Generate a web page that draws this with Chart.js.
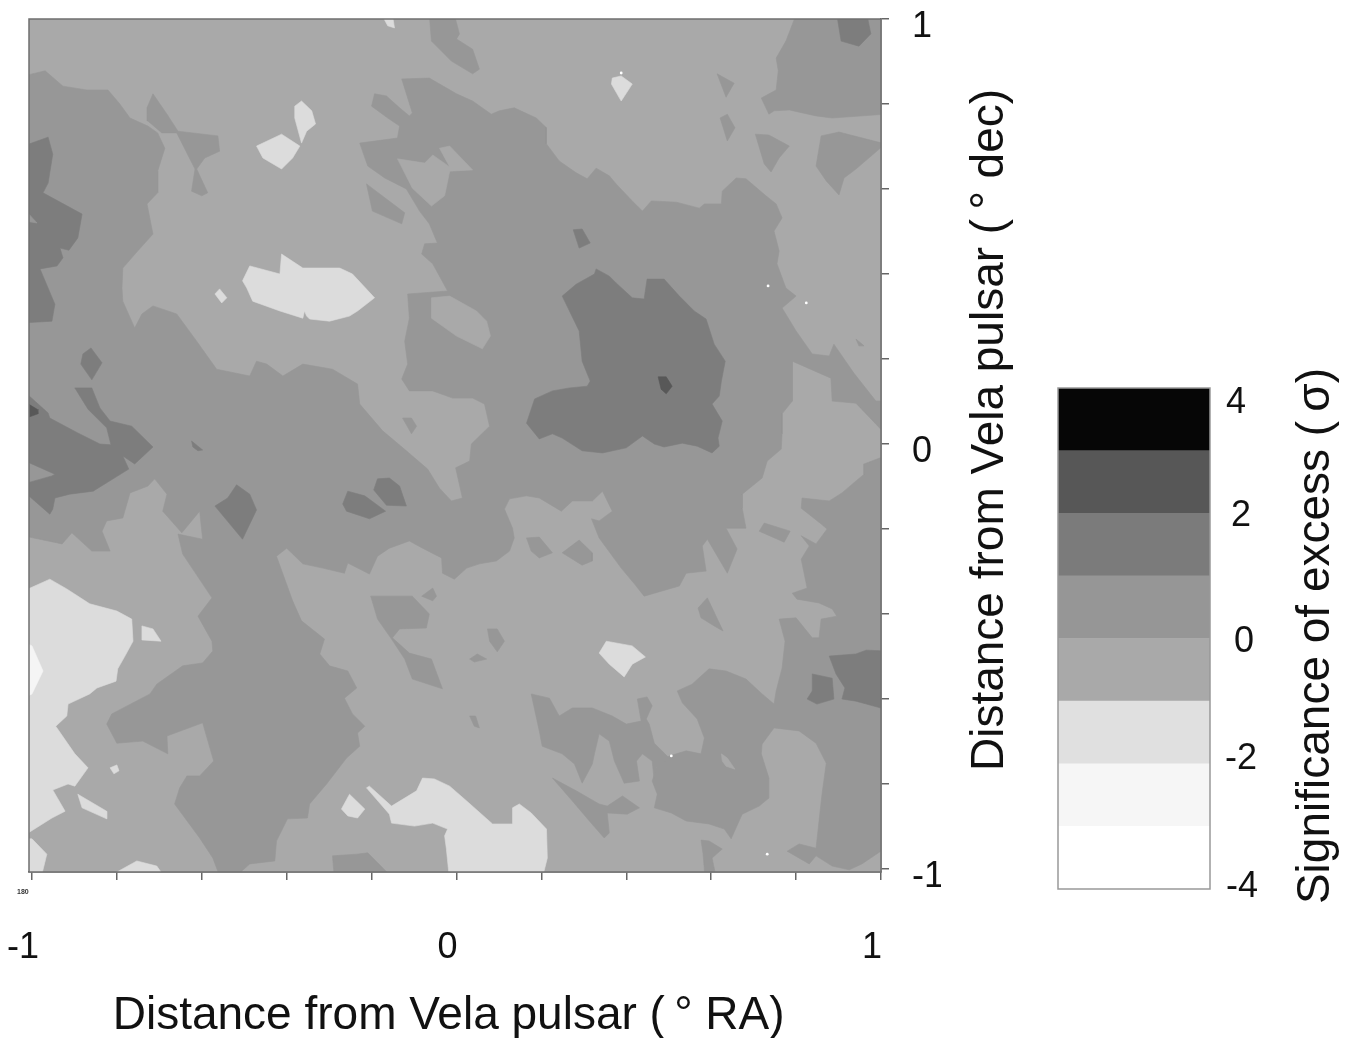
<!DOCTYPE html>
<html><head><meta charset="utf-8">
<style>html,body{margin:0;padding:0;background:#fff;width:1351px;height:1038px;overflow:hidden}
canvas{position:absolute;display:block}</style>
<script src="https://cdn.jsdelivr.net/npm/chart.js@4"></script>
</head><body>
<canvas id="map" width="1351" height="1038" style="left:0;top:0"></canvas>
<canvas id="bar" width="311" height="550" style="left:1040px;top:370px"></canvas>
<script>
// ---- labels ----
const xTitle = "Distance from Vela pulsar (\u2009\u00B0 RA)\u00A0";
const yTitle = "Distance from Vela pulsar (\u2009\u00B0 dec)";
const barTitle = "Significance of excess (\u2009\u03C3)";
const axisTicks = [-1,-0.8,-0.6,-0.4,-0.2,0,0.2,0.4,0.6,0.8,1];
const labelledTicks = [-1,0,1];
const barTicks = [4,2,0,-2,-4];
// ---- colour bar ----
const bandEdges = [-4,-3,-2,-1,0,1,2,3,4];
const bandColors = ["#ffffff","#f6f6f6","#e0e0e0","#a9a9a9","#969696","#7b7b7b","#575757","#060606"];
// ---- contour colours ----
const colA="#a9a9a9", colB="#979797", colC="#7d7d7d", colD="#585858", colE="#dcdcdc", colF="#f5f5f5";
// ---- contours, level just above the background: degrees (RA, dec) ----
const midMain=[[-1.02,.866],[-.969,.878],[-.927,.842],[-.871,.833],[-.821,.833],[-.793,.800],[-.769,.767],[-.727,.748],[-.704,.732],[-.687,.696],[-.704,.642],[-.704,.591],[-.729,.565],[-.715,.494],[-.751,.454],[-.786,.414],[-.788,.367],[-.786,.336],[-.758,.273],[-.741,.306],[-.715,.325],[-.659,.306],[-.612,.242],[-.565,.176],[-.487,.160],[-.471,.195],[-.447,.188],[-.409,.160],[-.362,.188],[-.292,.176],[-.233,.141],[-.228,.094],[-.174,.031],[-.118,-.016],[-.068,-.059],[-.040,-.104],[-.012,-.134],[.014,-.127],[-.002,-.056],[.031,-.040],[.035,0],[.078,.042],[.066,.094],[.038,.108],[-.009,.108],[-.056,.125],[-.111,.125],[-.129,.153],[-.115,.188],[-.122,.242],[-.111,.296],[-.115,.353],[-.021,.360],[-.056,.424],[-.082,.447],[-.075,.471],[-.045,.473],[-.064,.518],[-.087,.548],[-.118,.600],[-.169,.626],[-.209,.654],[-.228,.708],[-.139,.720],[-.134,.748],[-.162,.767],[-.200,.795],[-.193,.824],[-.165,.819],[-.134,.791],[-.111,.772],[-.104,.779],[-.129,.859],[-.064,.861],[0,.824],[.038,.807],[.082,.776],[.101,.784],[.136,.791],[.188,.767],[.212,.744],[.212,.706],[.242,.666],[.282,.638],[.308,.624],[.329,.649],[.360,.631],[.376,.612],[.414,.572],[.438,.548],[.459,.572],[.518,.569],[.572,.555],[.584,.565],[.624,.565],[.626,.595],[.659,.626],[.682,.624],[.729,.584],[.753,.565],[.767,.532],[.748,.501],[.760,.454],[.755,.424],[.776,.367],[.800,.348],[.767,.320],[.800,.266],[.838,.212],[.878,.207],[.889,.235],[.936,.167],[.988,.101],[1.01,.101],[1.01,.024],[.941,.096],[.885,.101],[.882,.155],[.791,.195],[.791,.101],[.767,.071],[.767,.024],[.765,-.012],[.732,-.040],[.720,-.080],[.673,-.118],[.673,-.151],[.682,-.198],[.635,-.198],[.661,-.247],[.638,-.304],[.591,-.224],[.579,-.240],[.588,-.299],[.541,-.304],[.525,-.334],[.442,-.358],[.419,-.329],[.388,-.292],[.336,-.221],[.318,-.176],[.336,-.181],[.367,-.158],[.344,-.111],[.320,-.134],[.273,-.134],[.247,-.158],[.195,-.127],[.165,-.122],[.125,-.129],[.113,-.153],[.132,-.198],[.136,-.221],[.125,-.252],[.094,-.275],[.054,-.282],[.024,-.292],[-.005,-.318],[-.033,-.304],[-.035,-.268],[-.080,-.245],[-.111,-.228],[-.158,-.245],[-.186,-.264],[-.205,-.306],[-.256,-.280],[-.264,-.304],[-.315,-.292],[-.362,-.282],[-.400,-.245],[-.424,-.264],[-.386,-.369],[-.365,-.416],[-.311,-.459],[-.322,-.494],[-.299,-.522],[-.256,-.534],[-.235,-.574],[-.264,-.598],[-.245,-.635],[-.216,-.664],[-.233,-.680],[-.228,-.711],[-.259,-.739],[-.306,-.800],[-.346,-.847],[-.351,-.880],[-.398,-.882],[-.424,-.934],[-.428,-.981],[-.487,-.988],[-.534,-1.03],[-.553,-1.03],[-.574,-.974],[-.605,-.927],[-.664,-.847],[-.652,-.809],[-.635,-.781],[-.605,-.781],[-.572,-.746],[-.598,-.656],[-.682,-.687],[-.680,-.729],[-.739,-.699],[-.800,-.704],[-.824,-.659],[-.812,-.635],[-.722,-.588],[-.706,-.565],[-.645,-.522],[-.598,-.515],[-.574,-.487],[-.576,-.464],[-.609,-.405],[-.576,-.362],[-.645,-.259],[-.656,-.212],[-.598,-.224],[-.605,-.158],[-.647,-.209],[-.692,-.158],[-.682,-.118],[-.711,-.082],[-.727,-.099],[-.769,-.115],[-.786,-.174],[-.824,-.181],[-.835,-.205],[-.816,-.252],[-.859,-.252],[-.906,-.209],[-.929,-.235],[-1.02,-.216]];
const midSouthEast=[[1.01,-.028],[.960,-.047],[.960,-.071],[.908,-.115],[.878,-.134],[.814,-.127],[.812,-.151],[.859,-.188],[.873,-.200],[.847,-.235],[.812,-.216],[.831,-.240],[.812,-.271],[.826,-.339],[.791,-.351],[.802,-.365],[.854,-.374],[.885,-.388],[.896,-.405],[.859,-.412],[.854,-.456],[.838,-.456],[.800,-.409],[.760,-.412],[.774,-.464],[.767,-.527],[.753,-.581],[.748,-.612],[.720,-.588],[.682,-.553],[.635,-.534],[.595,-.529],[.555,-.565],[.520,-.581],[.532,-.609],[.567,-.647],[.584,-.692],[.576,-.729],[.541,-.722],[.501,-.734],[.471,-.762],[.461,-.793],[.473,-.824],[.466,-.856],[.506,-.868],[.541,-.887],[.595,-.894],[.631,-.906],[.647,-.929],[.673,-.871],[.713,-.852],[.736,-.833],[.736,-.786],[.718,-.729],[.720,-.706],[.748,-.668],[.807,-.675],[.847,-.704],[.871,-.751],[.861,-.824],[.854,-.887],[.847,-.951],[.807,-.941],[.779,-.958],[.831,-.988],[.847,-.969],[.885,-.993],[.925,-1.002],[.955,-.988],[1.01,-.951]];
const midLobe=[[.176,-.588],[.219,-.598],[.242,-.640],[.273,-.621],[.320,-.621],[.367,-.640],[.400,-.659],[.435,-.652],[.426,-.600],[.449,-.595],[.461,-.616],[.447,-.647],[.454,-.659],[.466,-.704],[.501,-.739],[.471,-.762],[.466,-.793],[.461,-.746],[.438,-.729],[.424,-.746],[.431,-.793],[.395,-.798],[.372,-.746],[.360,-.699],[.336,-.682],[.325,-.729],[.320,-.753],[.296,-.798],[.278,-.753],[.249,-.729],[.202,-.711],[.195,-.675]];
const midFinger=[[.226,-.786],[.282,-.816],[.336,-.847],[.355,-.852],[.391,-.828],[.431,-.856],[.402,-.871],[.355,-.868],[.360,-.915],[.348,-.927],[.313,-.887],[.273,-.840]];
const midFoot=[[.576,-.932],[.595,-.934],[.626,-.953],[.602,-.974],[.614,-1.03],[.586,-1.03],[.581,-.965]];
const midShard=[[.569,-.386],[.591,-.362],[.628,-.440],[.607,-.428],[.576,-.409]];
const midSpider=[[-.729,.791],[-.715,.824],[-.682,.776],[-.656,.736],[-.562,.725],[-.558,.689],[-.593,.673],[-.612,.647],[-.586,.591],[-.600,.584],[-.624,.595],[-.616,.647],[-.659,.732],[-.694,.732],[-.727,.760]];
const midTop=[[-.064,1.01],[-.005,1.01],[.007,.965],[0,.953],[.038,.929],[.054,.882],[.038,.871],[-.012,.901],[-.059,.948]];
const midSliver=[[-.212,.612],[-.122,.544],[-.129,.518],[-.198,.548]];
const midNE1=[[.614,.871],[.654,.849],[.635,.816]];
const midNE2=[[.621,.767],[.638,.776],[.656,.744],[.638,.713]];
const midNE3=[[.704,.729],[.736,.727],[.784,.701],[.760,.673],[.741,.640],[.725,.659]];
const midNE4=[[.859,.725],[.901,.734],[1.01,.706],[.941,.647],[.913,.626],[.901,.586],[.871,.619],[.847,.654]];
const midNECorner=[[.800,1.01],[1.01,1.01],[1.01,.776],[.885,.767],[.847,.772],[.784,.786],[.748,.784],[.736,.776],[.718,.814],[.753,.833],[.758,.878],[.753,.908],[.776,.948]];
const midSpeck=[[.941,.247],[.960,.231],[.948,.231]];
const midBottom=[[-.292,-.969],[-.235,-.965],[-.209,-.962],[-.141,-1.03],[-.287,-1.03]];
const midVein=[[-.202,-.358],[-.104,-.358],[-.064,-.400],[-.071,-.433],[-.134,-.435],[-.151,-.456],[-.111,-.492],[-.059,-.506],[-.033,-.576],[-.104,-.553],[-.122,-.506],[-.153,-.459],[-.186,-.412]];
const midTick=[[-.082,-.358],[-.056,-.339],[-.047,-.358],[-.056,-.369]];
const midDot1=[[.073,-.435],[.096,-.435],[.113,-.464],[.096,-.489],[.078,-.464]];
const midDot2=[[.031,-.506],[.049,-.494],[.071,-.506],[.042,-.513]];
const midDot3=[[.031,-.640],[.045,-.640],[.054,-.668],[.042,-.664]];
const midIsle1=[[-.127,.061],[-.106,.061],[-.094,.042],[-.106,.024]];
const midIsle2=[[.165,-.221],[.195,-.219],[.226,-.256],[.195,-.268],[.176,-.252]];
const midIsle3=[[.249,-.256],[.289,-.226],[.320,-.256],[.320,-.275],[.296,-.285]];
const midIsle4=[[.713,-.205],[.725,-.186],[.786,-.205],[.772,-.231]];
const midNotch=[[-1.02,.555],[-.988,.520],[-1.02,.525]];
// ---- holes of the lower level inside the mid level ----
const lowLobe1=[[-.139,.671],[-.104,.602],[-.059,.560],[-.028,.584],[-.016,.642],[.038,.645],[-.016,.701],[-.040,.696],[-.016,.652],[-.056,.680],[-.075,.661]];
const lowLobe2=[[-.059,.344],[-.016,.348],[.047,.313],[.071,.289],[.080,.254],[.061,.224],[0,.254],[-.059,.296]];
const lowEye=[[.624,-.729],[.638,-.739],[.656,-.765],[.635,-.758],[.626,-.746]];
// ---- next level up ----
const highCentre=[[.249,.348],[.282,.376],[.325,.400],[.329,.412],[.360,.395],[.376,.379],[.414,.344],[.442,.341],[.449,.388],[.489,.388],[.525,.348],[.560,.313],[.588,.294],[.607,.235],[.633,.195],[.624,.148],[.619,.113],[.602,.094],[.626,.054],[.616,.014],[.619,-.005],[.602,-.021],[.567,-.005],[.532,.002],[.489,-.007],[.466,0],[.438,.019],[.400,-.009],[.344,-.021],[.296,-.016],[.249,.014],[.226,.024],[.195,.012],[.165,.049],[.184,.106],[.226,.125],[.266,.132],[.308,.136],[.315,.148],[.296,.195],[.289,.266]];
const highTiny=[[.275,.504],[.296,.506],[.315,.473],[.289,.461]];
const highNW=[[-1.02,.701],[-.962,.722],[-.951,.682],[-.962,.614],[-.974,.591],[-.882,.541],[-.892,.485],[-.913,.456],[-.934,.461],[-.927,.438],[-.941,.419],[-.981,.412],[-.946,.329],[-.953,.289],[-1.02,.285]];
const highDiamond=[[-.861,.226],[-.835,.191],[-.859,.151],[-.885,.188],[-.880,.212]];
const highWest=[[-1.02,.125],[-.962,.073],[-.958,.061],[-.892,.026],[-.840,0],[-.814,-.002],[-.824,.038],[-.868,.082],[-.899,.132],[-.859,.132],[-.840,.085],[-.816,.054],[-.765,.042],[-.715,-.007],[-.758,-.047],[-.786,-.028],[-.772,-.059],[-.856,-.111],[-.911,-.118],[-.946,-.127],[-.951,-.153],[-.958,-.165],[-1.02,-.111],[-1.02,-.094],[-.953,-.075],[-.946,-.071],[-1.02,-.038]];
const highDash=[[-.624,.007],[-.598,-.014],[-.609,-.016],[-.621,-.007]];
const highBlob1=[[-.518,-.096],[-.487,-.118],[-.471,-.155],[-.504,-.224],[-.569,-.146],[-.539,-.127]];
const highBlob2=[[-.256,-.111],[-.216,-.122],[-.167,-.158],[-.205,-.176],[-.259,-.158],[-.268,-.141]];
const highBlob3=[[-.186,-.082],[-.158,-.080],[-.134,-.099],[-.118,-.146],[-.165,-.144],[-.195,-.108]];
const highEast=[[.878,-.499],[.941,-.494],[.965,-.485],[1.01,-.487],[1.01,-.624],[.941,-.605],[.908,-.600],[.915,-.574],[.894,-.541]];
const highEast2=[[.838,-.541],[.885,-.551],[.889,-.600],[.849,-.612],[.826,-.600],[.838,-.581]];
const highCorner=[[.896,1.01],[.967,1.01],[.976,.965],[.948,.936],[.906,.948]];
// ---- top level ----
const peakDot=[[.475,.158],[.494,.158],[.508,.136],[.494,.118],[.482,.129]];
const peakWest=[[-1.02,.101],[-.988,.082],[-.986,.071],[-1.02,.059]];
// ---- pale (negative) levels ----
const paleA=[[-.365,.807],[-.341,.784],[-.332,.753],[-.353,.736],[-.365,.708],[-.381,.767],[-.381,.795]];
const paleB=[[-.412,.729],[-.369,.701],[-.386,.673],[-.412,.647],[-.456,.673],[-.471,.701]];
const paleC=[[-.569,.353],[-.558,.365],[-.541,.344],[-.553,.332]];
const paleD=[[-.504,.384],[-.487,.419],[-.416,.400],[-.412,.447],[-.362,.414],[-.275,.414],[-.245,.400],[-.193,.344],[-.233,.313],[-.252,.301],[-.299,.289],[-.346,.294],[-.353,.301],[-.358,.313],[-.362,.296],[-.416,.313],[-.480,.336],[-.494,.367]];
const paleE=[[-.176,1.01],[-.151,1.01],[-.146,.979],[-.162,.984]];
const paleF=[[.367,.861],[.388,.866],[.414,.847],[.388,.807],[.365,.847]];
const paleG=[[-1.02,-.346],[-.958,-.318],[-.918,-.341],[-.864,-.376],[-.800,-.393],[-.765,-.412],[-.762,-.464],[-.781,-.499],[-.798,-.529],[-.802,-.558],[-.847,-.574],[-.864,-.588],[-.915,-.612],[-.918,-.640],[-.944,-.664],[-.899,-.729],[-.868,-.762],[-.899,-.805],[-.915,-.800],[-.951,-.814],[-.922,-.864],[-.953,-.880],[-1.02,-.922]];
const paleH=[[-.741,-.428],[-.715,-.435],[-.696,-.464],[-.741,-.461]];
const paleI=[[-.816,-.762],[-.800,-.755],[-.795,-.769],[-.807,-.776]];
const paleJ=[[-.892,-.824],[-.824,-.864],[-.824,-.882],[-.882,-.856]];
const paleK=[[-1.02,-.929],[-1.0,-.929],[-.965,-.965],[-.981,-1.03],[-1.02,-1.03]];
const paleL=[[-.809,-1.03],[-.809,-1.012],[-.753,-.981],[-.706,-.993],[-.680,-1.03]];
const paleM=[[-.212,-.809],[-.205,-.805],[-.153,-.852],[-.094,-.816],[-.080,-.786],[-.052,-.788],[-.016,-.805],[.024,-.840],[.085,-.894],[.132,-.894],[.132,-.856],[.148,-.847],[.176,-.868],[.212,-.906],[.214,-.974],[.200,-1.03],[-.016,-1.03],[-.024,-.951],[-.028,-.922],[-.021,-.906],[-.056,-.892],[-.099,-.899],[-.153,-.892],[-.158,-.871]];
const paleN=[[-.252,-.824],[-.216,-.859],[-.233,-.880],[-.256,-.875],[-.271,-.859]];
const paleO=[[.336,-.492],[.353,-.464],[.414,-.475],[.445,-.501],[.414,-.518],[.395,-.548],[.360,-.518]];
const whiteEdge=[[-1.02,-.465],[-1.0,-.475],[-.974,-.534],[-1.0,-.588],[-1.02,-.598]];
const specks=[[.388,.873],[.824,.332],[.732,-.965],[.734,.372],[.506,-.734]];

const layers=[
 [colB,[midMain,midSouthEast,midLobe,midFinger,midFoot,midShard,midSpider,midTop,midSliver,midNE1,midNE2,midNE3,midNE4,midNECorner,midSpeck,midBottom,midVein,midTick,midDot1,midDot2,midDot3]],
 [colA,[lowLobe1,lowLobe2,lowEye]],
 [colB,[midIsle1,midIsle2,midIsle3,midIsle4]],
 [colC,[highCentre,highTiny,highNW,highDiamond,highWest,highDash,highBlob1,highBlob2,highBlob3,highEast,highEast2,highCorner]],
 [colB,[midNotch]],
 [colD,[peakDot,peakWest]],
 [colE,[paleA,paleB,paleC,paleD,paleE,paleF,paleG,paleH,paleI,paleJ,paleK,paleL,paleM,paleN,paleO]],
 [colF,[whiteEdge]]
];
const datasets=[];
layers.forEach(([color,polys])=>polys.forEach(p=>datasets.push({
  data:p.concat([p[0]]).map(([x,y])=>({x,y})),
  showLine:true,fill:'shape',backgroundColor:color,borderColor:color,borderWidth:0.6,pointRadius:0,tension:0
})));
datasets.push({data:specks.map(([x,y])=>({x,y})),showLine:false,pointRadius:1.4,pointBackgroundColor:'#fff',pointBorderWidth:0});
datasets.forEach((d,i)=>d.order=datasets.length-i);

const fontFamily='"Liberation Sans",Arial,sans-serif';
const ink='#111';
const TITLE_SIZE=46;
function rotatedText(ctx,t,x,y,size){ctx.save();ctx.translate(x,y);ctx.rotate(-Math.PI/2);ctx.font=size+'px '+fontFamily;ctx.fillStyle=ink;ctx.textAlign='center';ctx.textBaseline='middle';ctx.fillText(t,0,0);ctx.restore();}
const frame={id:'frame',
  beforeDatasetsDraw(c){const a=c.chartArea,x=c.ctx;x.save();x.fillStyle=colA;x.fillRect(a.left,a.top,a.width,a.height);x.restore();},
  afterDraw(c){const a=c.chartArea,x=c.ctx;x.save();x.strokeStyle='#6f6f6f';x.lineWidth=1.5;x.strokeRect(a.left,a.top,a.width,a.height);
    x.font='bold 7px '+fontFamily;x.fillStyle='#333';x.textAlign='left';x.textBaseline='middle';x.fillText('180',17,892);x.restore();
    rotatedText(x,yTitle,990,430,TITLE_SIZE);}
};
const noPad=s=>{s.paddingLeft=0;s.paddingRight=0;s.paddingTop=0;s.paddingBottom=0;};
new Chart(document.getElementById('map'),{
  type:'scatter',
  data:{datasets},
  options:{responsive:false,animation:false,devicePixelRatio:1,
    layout:{autoPadding:false,padding:{left:29,top:19,right:410,bottom:0}},
    plugins:{legend:{display:false},tooltip:{enabled:false}},
    scales:{
      x:{type:'linear',position:'bottom',min:-1.007,max:1.0,
        afterBuildTicks(s){s.ticks=axisTicks.map(v=>({value:v}));},
        afterFit(s){s.height=166;noPad(s);},
        grid:{drawOnChartArea:false,drawTicks:true,tickLength:8,color:'#666',lineWidth:1.5},
        border:{display:true,color:'#666',width:1.5},
        ticks:{autoSkip:false,maxRotation:0,minRotation:0,padding:46,labelOffset:-9,color:ink,font:{family:fontFamily,size:36},
          callback:v=>labelledTicks.some(t=>Math.abs(t-v)<1e-6)?String(Math.round(v)):''},
        title:{display:true,text:xTitle,color:ink,font:{family:fontFamily,size:TITLE_SIZE},padding:{top:0,bottom:-6}}
      },
      y:{type:'linear',position:'right',min:-1.007,max:1.0,
        afterBuildTicks(s){s.ticks=axisTicks.map(v=>({value:v}));},
        afterFit(s){s.width=60;noPad(s);},
        grid:{drawOnChartArea:false,drawTicks:true,tickLength:8,color:'#666',lineWidth:1.5},
        border:{display:true,color:'#666',width:1.5},
        ticks:{autoSkip:false,padding:23,labelOffset:8,color:ink,font:{family:fontFamily,size:36},
          callback:v=>labelledTicks.some(t=>Math.abs(t-v)<1e-6)?String(Math.round(v)):''}
      }
    }
  },
  plugins:[frame]
});
// ---- colour bar ----
const barLabelX=[186,191,194,185,186];
const barLabelNudge=[15,3,4,-5,-2];
const barFrame={id:'barFrame',afterDraw(c){const a=c.chartArea,x=c.ctx,y=c.scales.y;x.save();x.strokeStyle='#999';x.lineWidth=1.5;x.strokeRect(a.left,a.top,a.width,a.height);
   x.font='36px '+fontFamily;x.fillStyle=ink;x.textAlign='left';x.textBaseline='middle';
   barTicks.forEach((t,i)=>x.fillText(String(t),barLabelX[i],y.getPixelForValue(t)+barLabelNudge[i]));x.restore();
   rotatedText(x,barTitle,276,266,TITLE_SIZE);}};
new Chart(document.getElementById('bar'),{
  type:'bar',
  data:{labels:['excess'],datasets:bandColors.map((c,i)=>({data:[[bandEdges[i],bandEdges[i+1]]],backgroundColor:c,borderWidth:0,barPercentage:1,categoryPercentage:1,grouped:false}))},
  options:{responsive:false,animation:false,devicePixelRatio:1,
    layout:{padding:{left:18,top:18,right:141,bottom:31}},
    plugins:{legend:{display:false},tooltip:{enabled:false}},
    scales:{x:{display:false,stacked:false},y:{display:false,min:-4,max:4}}
  },
  plugins:[barFrame]
});
</script>
</body></html>
